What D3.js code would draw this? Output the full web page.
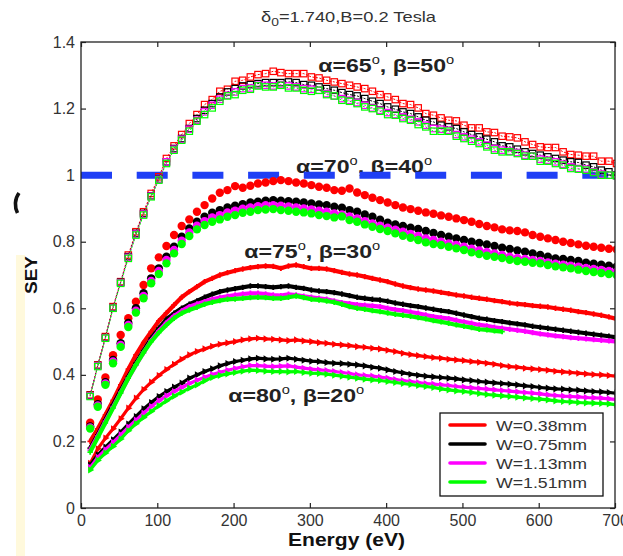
<!DOCTYPE html>
<html><head><meta charset="utf-8">
<script src="https://cdn.jsdelivr.net/npm/d3@7"></script>
<style>body{margin:0;background:#fff}svg{display:block}</style>
</head><body><svg id="c" width="623" height="556"></svg>
<script>
// ---------- data ----------
const energy = [12,22,32,42,52,62,72,82,92,102,112,122,132,142,152,162,172,182,192,202,
  212,222,232,242,252,262,272,282,292,302,312,322,332,342,352,362,372,382,392,402,
  412,422,432,442,452,462,472,482,492,502,512,522,532,542,552,562,572,582,592,602,
  612,622,632,642,652,662,672,682,692,702];

const seriesNames = ["W=0.38mm","W=0.75mm","W=1.13mm","W=1.51mm"];
const seriesColors = ["#ff0000","#000000","#ff00ff","#00ff00"];

const xTicks = [0,100,200,300,400,500,600,700];
const yTicks = [0,0.2,0.4,0.6,0.8,1.0,1.2,1.4];
const yTickLabels = ["0","0.2","0.4","0.6","0.8","1","1.2","1.4"];
const titleBase = "δ", titleSub = "0", titleRest = "=1.740,B=0.2 Tesla";
const xLabel = "Energy (eV)", yLabel = "SEY";
const unitySEY = 1.0;

// alpha = 65, beta = 50  (open squares)
const g65_038 = [0.34,0.43,0.515,0.605,0.68,0.76,0.83,0.89,0.945,0.995,
 1.05,1.088,1.122,1.155,1.182,1.212,1.227,1.252,1.258,1.282,
 1.285,1.295,1.302,1.305,1.312,1.308,1.305,1.305,1.305,1.295,
 1.292,1.285,1.28,1.275,1.27,1.265,1.26,1.252,1.242,1.235,
 1.227,1.215,1.212,1.202,1.185,1.18,1.172,1.165,1.163,1.15,
 1.142,1.142,1.13,1.128,1.117,1.115,1.112,1.1,1.092,1.085,
 1.083,1.083,1.07,1.062,1.06,1.057,1.057,1.042,1.042,1.035];
const g65_075 = [0.338,0.428,0.512,0.602,0.678,0.755,0.825,0.885,0.938,0.988,
 1.04,1.08,1.11,1.14,1.17,1.195,1.215,1.235,1.25,1.26,
 1.268,1.272,1.275,1.278,1.278,1.278,1.28,1.278,1.272,1.27,
 1.265,1.26,1.255,1.248,1.242,1.238,1.23,1.222,1.215,1.205,
 1.198,1.19,1.185,1.175,1.165,1.16,1.15,1.145,1.14,1.13,
 1.122,1.115,1.108,1.1,1.088,1.085,1.078,1.07,1.065,1.06,
 1.055,1.05,1.045,1.04,1.038,1.03,1.025,1.015,1.01,1.0];
const g65_113 = [0.337,0.427,0.511,0.601,0.677,0.753,0.823,0.883,0.937,0.987,
 1.04,1.078,1.108,1.138,1.165,1.19,1.21,1.228,1.24,1.25,
 1.26,1.262,1.27,1.27,1.268,1.272,1.268,1.265,1.26,1.258,
 1.255,1.245,1.238,1.23,1.225,1.218,1.21,1.202,1.195,1.188,
 1.182,1.175,1.168,1.16,1.15,1.14,1.138,1.135,1.122,1.115,
 1.108,1.1,1.09,1.08,1.075,1.072,1.068,1.06,1.058,1.048,
 1.045,1.04,1.033,1.025,1.02,1.018,1.01,1.003,1.0,0.998];
const g65_151 = [0.335,0.425,0.51,0.6,0.675,0.75,0.82,0.88,0.935,0.985,
 1.035,1.075,1.105,1.132,1.162,1.182,1.202,1.222,1.238,1.242,
 1.255,1.258,1.268,1.265,1.265,1.27,1.262,1.262,1.255,1.252,
 1.255,1.242,1.238,1.225,1.222,1.215,1.205,1.2,1.192,1.182,
 1.18,1.17,1.165,1.152,1.145,1.132,1.132,1.132,1.117,1.11,
 1.102,1.095,1.085,1.075,1.07,1.07,1.065,1.057,1.057,1.042,
 1.042,1.035,1.03,1.02,1.018,1.015,1.008,1.0,1.0,0.998];

// alpha = 70, beta = 40  (filled circles)
const g70_038 = [0.256,0.326,0.392,0.459,0.52,0.57,0.62,0.67,0.72,0.753,
 0.787,0.82,0.847,0.867,0.89,0.91,0.93,0.947,0.955,0.967,
 0.962,0.968,0.975,0.978,0.982,0.985,0.982,0.978,0.975,0.97,
 0.965,0.962,0.955,0.953,0.96,0.948,0.94,0.932,0.925,0.918,
 0.91,0.903,0.898,0.893,0.888,0.884,0.879,0.875,0.87,0.865,
 0.86,0.853,0.847,0.843,0.837,0.834,0.832,0.828,0.82,0.815,
 0.81,0.805,0.8,0.796,0.792,0.788,0.785,0.782,0.779,0.777];
const g70_075 = [0.245,0.312,0.378,0.445,0.495,0.556,0.6,0.645,0.69,0.72,
 0.755,0.785,0.815,0.84,0.86,0.875,0.887,0.895,0.903,0.908,
 0.913,0.918,0.92,0.923,0.925,0.923,0.922,0.92,0.918,0.915,
 0.912,0.91,0.905,0.902,0.895,0.89,0.882,0.875,0.866,0.857,
 0.852,0.847,0.842,0.838,0.832,0.826,0.82,0.815,0.81,0.805,
 0.8,0.796,0.792,0.787,0.782,0.778,0.774,0.77,0.765,0.76,
 0.755,0.75,0.748,0.745,0.742,0.737,0.734,0.731,0.728,0.725];
const g70_113 = [0.242,0.308,0.374,0.44,0.49,0.55,0.593,0.637,0.682,0.712,
 0.745,0.775,0.803,0.828,0.848,0.862,0.873,0.88,0.888,0.893,
 0.899,0.903,0.907,0.91,0.91,0.908,0.906,0.903,0.9,0.897,
 0.893,0.89,0.885,0.882,0.876,0.87,0.862,0.855,0.848,0.842,
 0.836,0.83,0.823,0.817,0.81,0.805,0.8,0.795,0.79,0.785,
 0.779,0.774,0.769,0.765,0.76,0.755,0.751,0.748,0.745,0.742,
 0.738,0.734,0.731,0.728,0.725,0.721,0.718,0.715,0.712,0.71];
const g70_151 = [0.239,0.304,0.37,0.435,0.484,0.544,0.587,0.63,0.675,0.703,
 0.735,0.765,0.793,0.817,0.837,0.85,0.86,0.867,0.875,0.88,
 0.887,0.89,0.895,0.897,0.898,0.895,0.893,0.89,0.888,0.885,
 0.88,0.877,0.873,0.876,0.865,0.86,0.852,0.845,0.838,0.832,
 0.825,0.818,0.812,0.805,0.798,0.793,0.79,0.785,0.78,0.775,
 0.768,0.763,0.758,0.755,0.751,0.746,0.742,0.74,0.737,0.735,
 0.73,0.726,0.723,0.72,0.716,0.712,0.709,0.706,0.703,0.7];

// alpha = 75, beta = 30  (thick lines)
const g75_038 = [0.2,0.238,0.28,0.323,0.37,0.417,0.46,0.497,0.53,0.562,
 0.586,0.61,0.633,0.65,0.665,0.68,0.69,0.7,0.707,0.713,
 0.718,0.722,0.725,0.727,0.726,0.72,0.727,0.73,0.725,0.72,
 0.72,0.718,0.713,0.708,0.703,0.7,0.695,0.69,0.685,0.68,
 0.673,0.667,0.662,0.658,0.655,0.652,0.648,0.644,0.64,0.637,
 0.633,0.63,0.627,0.623,0.62,0.616,0.613,0.611,0.608,0.606,
 0.604,0.6,0.597,0.594,0.59,0.587,0.583,0.579,0.574,0.568];
const g75_075 = [0.18,0.22,0.265,0.31,0.353,0.395,0.435,0.473,0.51,0.54,
 0.567,0.585,0.6,0.612,0.622,0.633,0.642,0.65,0.655,0.659,
 0.663,0.667,0.667,0.665,0.663,0.665,0.667,0.663,0.66,0.655,
 0.652,0.65,0.647,0.643,0.638,0.633,0.63,0.627,0.625,0.621,
 0.616,0.612,0.608,0.605,0.601,0.597,0.593,0.59,0.585,0.58,
 0.575,0.57,0.567,0.563,0.56,0.556,0.553,0.55,0.546,0.543,
 0.54,0.537,0.534,0.531,0.528,0.525,0.522,0.519,0.516,0.513];
const g75_113 = [0.174,0.216,0.26,0.303,0.347,0.39,0.43,0.467,0.503,0.532,
 0.557,0.577,0.592,0.605,0.613,0.62,0.627,0.632,0.636,0.64,
 0.643,0.645,0.645,0.643,0.64,0.638,0.642,0.64,0.636,0.633,
 0.63,0.627,0.622,0.617,0.614,0.611,0.609,0.607,0.605,0.6,
 0.596,0.593,0.589,0.585,0.58,0.575,0.572,0.569,0.564,0.559,
 0.555,0.55,0.547,0.543,0.54,0.537,0.534,0.531,0.527,0.523,
 0.52,0.517,0.515,0.512,0.51,0.508,0.506,0.504,0.502,0.5];
const g75_151 = [0.168,0.212,0.256,0.3,0.345,0.39,0.43,0.467,0.5,0.527,
 0.55,0.57,0.585,0.595,0.603,0.612,0.618,0.623,0.627,0.628,
 0.63,0.632,0.633,0.632,0.63,0.63,0.633,0.637,0.632,0.627,
 0.625,0.622,0.618,0.612,0.605,0.6,0.597,0.593,0.59,0.586,
 0.582,0.579,0.576,0.572,0.568,0.563,0.559,0.555,0.55,0.546,
 0.542,0.537,0.535,0.532,0.53,null,null,null,null,null,
 null,null,null,null,null,null,null,null,null,null];

// alpha = 80, beta = 20  (lines with triangles)
const g80_038 = [0.134,0.178,0.21,0.238,0.268,0.3,0.33,0.356,0.378,0.398,
 0.416,0.432,0.447,0.46,0.47,0.478,0.486,0.492,0.496,0.5,
 0.505,0.508,0.51,0.508,0.507,0.505,0.503,0.505,0.502,0.5,
 0.497,0.495,0.492,0.49,0.488,0.485,0.483,0.48,0.478,0.474,
 0.47,0.465,0.461,0.458,0.455,0.452,0.45,0.447,0.445,0.443,
 0.44,0.438,0.435,0.432,0.428,0.425,0.423,0.42,0.418,0.416,
 0.414,0.411,0.409,0.407,0.405,0.403,0.401,0.4,0.398,0.396];
const g80_075 = [0.129,0.16,0.183,0.205,0.228,0.252,0.275,0.298,0.317,0.335,
 0.35,0.363,0.375,0.39,0.4,0.41,0.418,0.427,0.434,0.44,
 0.444,0.448,0.45,0.448,0.447,0.448,0.45,0.447,0.444,0.441,
 0.44,0.437,0.435,0.434,0.432,0.43,0.427,0.423,0.42,0.415,
 0.41,0.406,0.402,0.399,0.396,0.394,0.392,0.39,0.388,0.385,
 0.383,0.38,0.378,0.376,0.374,0.372,0.37,0.367,0.365,0.362,
 0.36,0.358,0.357,0.355,0.354,0.352,0.35,0.349,0.347,0.345];
const g80_113 = [0.122,0.152,0.175,0.197,0.22,0.243,0.264,0.285,0.305,0.322,
 0.337,0.35,0.362,0.374,0.384,0.393,0.401,0.408,0.414,0.419,
 0.424,0.428,0.428,0.426,0.425,0.426,0.427,0.423,0.42,0.417,
 0.415,0.413,0.41,0.407,0.404,0.4,0.398,0.396,0.393,0.39,
 0.386,0.383,0.38,0.377,0.374,0.372,0.37,0.368,0.365,0.363,
 0.361,0.359,0.357,0.355,0.353,0.351,0.349,0.347,0.345,0.343,
 0.34,0.338,0.336,0.335,0.334,0.332,0.331,0.33,0.328,0.326];
const g80_151 = [0.114,0.143,0.165,0.185,0.207,0.232,0.253,0.272,0.29,0.307,
 0.322,0.336,0.348,0.36,0.37,0.382,0.392,0.398,0.403,0.407,
 0.411,0.414,0.413,0.411,0.41,0.41,0.409,0.41,0.407,0.405,
 0.404,0.402,0.399,0.396,0.393,0.39,0.387,0.385,0.383,0.38,
 0.377,0.374,0.371,0.368,0.365,0.362,0.358,0.355,0.352,0.35,
 0.347,0.344,0.341,0.339,0.337,0.335,0.333,0.331,0.329,0.327,
 0.325,0.322,0.32,0.319,0.317,0.316,0.315,0.314,0.313,0.31];

const groupLabels = [["65","50"],["70","40"],["75","30"],["80","20"]];

// ---------- drawing ----------
const W = 623, H = 556;
const m = {l:81, r:8, t:42, b:48};
const x = d3.scaleLinear().domain([0,700]).range([m.l, W - m.r]);
const y = d3.scaleLinear().domain([0,1.4]).range([H - m.b, m.t]);
const svg = d3.select("#c");
const FONT = "'Liberation Sans', Arial, Helvetica, sans-serif";

// page decorations at the left edge
svg.append("rect").attr("x",16).attr("y",255).attr("width",9).attr("height",H-255).attr("fill","#fff9dc");
svg.append("path").attr("d","M19,193 C14.5,199 14.5,207 17.5,213").attr("stroke","#111").attr("stroke-width",3.6).attr("fill","none");

svg.append("defs").append("clipPath").attr("id","plotclip").append("rect")
  .attr("x",m.l).attr("y",m.t).attr("width",W-m.r-m.l).attr("height",H-m.b-m.t);

// title
const title = svg.append("text").attr("x",(m.l+W-m.r)/2+0.5).attr("y",22)
  .attr("text-anchor","middle").attr("font-family",FONT).attr("font-size",14.5).attr("fill","#333")
  .attr("textLength",175).attr("lengthAdjust","spacingAndGlyphs");
title.append("tspan").text(titleBase);
title.append("tspan").attr("dy",4).attr("font-size",11).text(titleSub);
title.append("tspan").attr("dy",-4).text(titleRest);

// axes
const axB = d3.axisBottom(x).tickValues(xTicks).tickSize(-5).tickSizeOuter(0).tickPadding(7).tickFormat(d3.format("d"));
const axL = d3.axisLeft(y).tickValues(yTicks).tickSize(-5).tickSizeOuter(0).tickPadding(6)
  .tickFormat((d,i)=>yTickLabels[i]);
const axT = d3.axisTop(x).tickValues(xTicks).tickSize(-5).tickSizeOuter(0).tickFormat("");
const axR = d3.axisRight(y).tickValues(yTicks).tickSize(-5).tickSizeOuter(0).tickFormat("");
function styleAxis(g){
  g.selectAll("path.domain").remove();
  g.selectAll("line").attr("stroke","#222").attr("stroke-width",1.2);
  g.selectAll("text").attr("font-family",FONT).attr("font-size",16).attr("fill","#333");
}
svg.append("g").attr("transform",`translate(0,${H-m.b})`).call(axB).call(styleAxis);
svg.append("g").attr("transform",`translate(${m.l},0)`).call(axL).call(styleAxis);
svg.append("g").attr("transform",`translate(0,${m.t})`).call(axT).call(styleAxis);
svg.append("g").attr("transform",`translate(${W-m.r},0)`).call(axR).call(styleAxis);

// axis labels
svg.append("text").attr("x",346.5).attr("y",546).attr("text-anchor","middle")
  .attr("font-family",FONT).attr("font-weight","bold").attr("font-size",18).attr("fill","#111")
  .attr("textLength",117).attr("lengthAdjust","spacingAndGlyphs").text(xLabel);
svg.append("text").attr("transform","translate(37,275) rotate(-90)").attr("text-anchor","middle")
  .attr("font-family",FONT).attr("font-weight","bold").attr("font-size",16).attr("fill","#111")
  .attr("textLength",38).attr("lengthAdjust","spacingAndGlyphs").text(yLabel);

// group labels
const labelAnchors = [[311,1.309],[282,1.006],[214,0.751],[193,0.318]];
groupLabels.forEach((ab,i)=>{
  const t = svg.append("text").attr("x",x(labelAnchors[i][0])).attr("y",y(labelAnchors[i][1]))
    .attr("font-family",FONT).attr("font-weight","bold").attr("font-size",19).attr("fill","#222")
    .attr("textLength",136).attr("lengthAdjust","spacingAndGlyphs");
  t.append("tspan").text("α="+ab[0]);
  t.append("tspan").attr("dy",-8).attr("font-size",12).attr("font-weight","normal").text("o");
  t.append("tspan").attr("dy",8).text(", β="+ab[1]);
  t.append("tspan").attr("dy",-8).attr("font-size",12).attr("font-weight","normal").text("o");
});

// SEY = 1 dashed line
svg.append("line").attr("x1",x(0)).attr("x2",x(691)).attr("y1",y(unitySEY)).attr("y2",y(unitySEY))
  .attr("stroke","#1f3ff5").attr("stroke-width",7).attr("stroke-dasharray","31,24.7");

const plot = svg.append("g").attr("clip-path","url(#plotclip)");
const pts = arr => energy.map((e,i)=>({e, v:arr[i]})).filter(d=>d.v!=null);
const line = d3.line().defined(d=>d.v!=null).x(d=>x(d.e)).y(d=>y(d.v));

// alpha=80 lines with triangles
[g80_038,g80_075,g80_113,g80_151].forEach((arr,k)=>{
  const c = seriesColors[k];
  plot.append("path").datum(pts(arr)).attr("d",line).attr("fill","none").attr("stroke",c).attr("stroke-width",3.2);
  plot.append("g").selectAll("path").data(pts(arr)).join("path")
    .attr("d",d3.symbol(d3.symbolTriangle,22))
    .attr("transform",d=>`translate(${x(d.e)},${y(d.v)}) rotate(90)`).attr("fill",c);
});
// alpha=75 thick lines
[g75_038,g75_075,g75_113,g75_151].forEach((arr,k)=>{
  const c = seriesColors[k];
  plot.append("path").datum(pts(arr)).attr("d",line).attr("fill","none").attr("stroke",c)
    .attr("stroke-width",4.2).attr("stroke-linejoin","round");
  plot.append("g").selectAll("path").data(pts(arr)).join("path")
    .attr("d",d3.symbol(d3.symbolCross,16))
    .attr("transform",d=>`translate(${x(d.e)},${y(d.v)})`).attr("fill",c);
});
// alpha=70 filled circles
[g70_038,g70_075,g70_113,g70_151].forEach((arr,k)=>{
  const c = seriesColors[k];
  plot.append("g").selectAll("circle").data(pts(arr)).join("circle")
    .attr("cx",d=>x(d.e)).attr("cy",d=>y(d.v)).attr("r",4.2).attr("fill",c);
});
// alpha=65 open squares with thin dotted lines
[g65_038,g65_075,g65_113,g65_151].forEach((arr,k)=>{
  const c = seriesColors[k];
  plot.append("path").datum(pts(arr)).attr("d",line).attr("fill","none").attr("stroke",c)
    .attr("stroke-width",1).attr("stroke-dasharray","2,1.5");
  plot.append("g").selectAll("rect").data(pts(arr)).join("rect")
    .attr("x",d=>x(d.e)-3.2).attr("y",d=>y(d.v)-3.2).attr("width",6.4).attr("height",6.4)
    .attr("fill","none").attr("stroke",c).attr("stroke-width",1.2);
});

// frame
svg.append("rect").attr("x",m.l).attr("y",m.t).attr("width",W-m.r-m.l).attr("height",H-m.b-m.t)
  .attr("fill","none").attr("stroke","#222").attr("stroke-width",1.3);

// legend
const lg = svg.append("g");
lg.append("rect").attr("x",440).attr("y",413).attr("width",163).attr("height",83)
  .attr("fill","#fff").attr("stroke","#111").attr("stroke-width",1.3);
seriesNames.forEach((n,i)=>{
  const yy = 425 + i*19;
  lg.append("line").attr("x1",450).attr("x2",485).attr("y1",yy).attr("y2",yy)
    .attr("stroke",seriesColors[i]).attr("stroke-width",3.6).attr("stroke-linecap","round");
  lg.append("text").attr("x",496).attr("y",yy+5.5).attr("font-family",FONT).attr("font-size",15.5)
    .attr("fill","#333").attr("textLength",91).attr("lengthAdjust","spacingAndGlyphs").text(n);
});
</script></body></html>
